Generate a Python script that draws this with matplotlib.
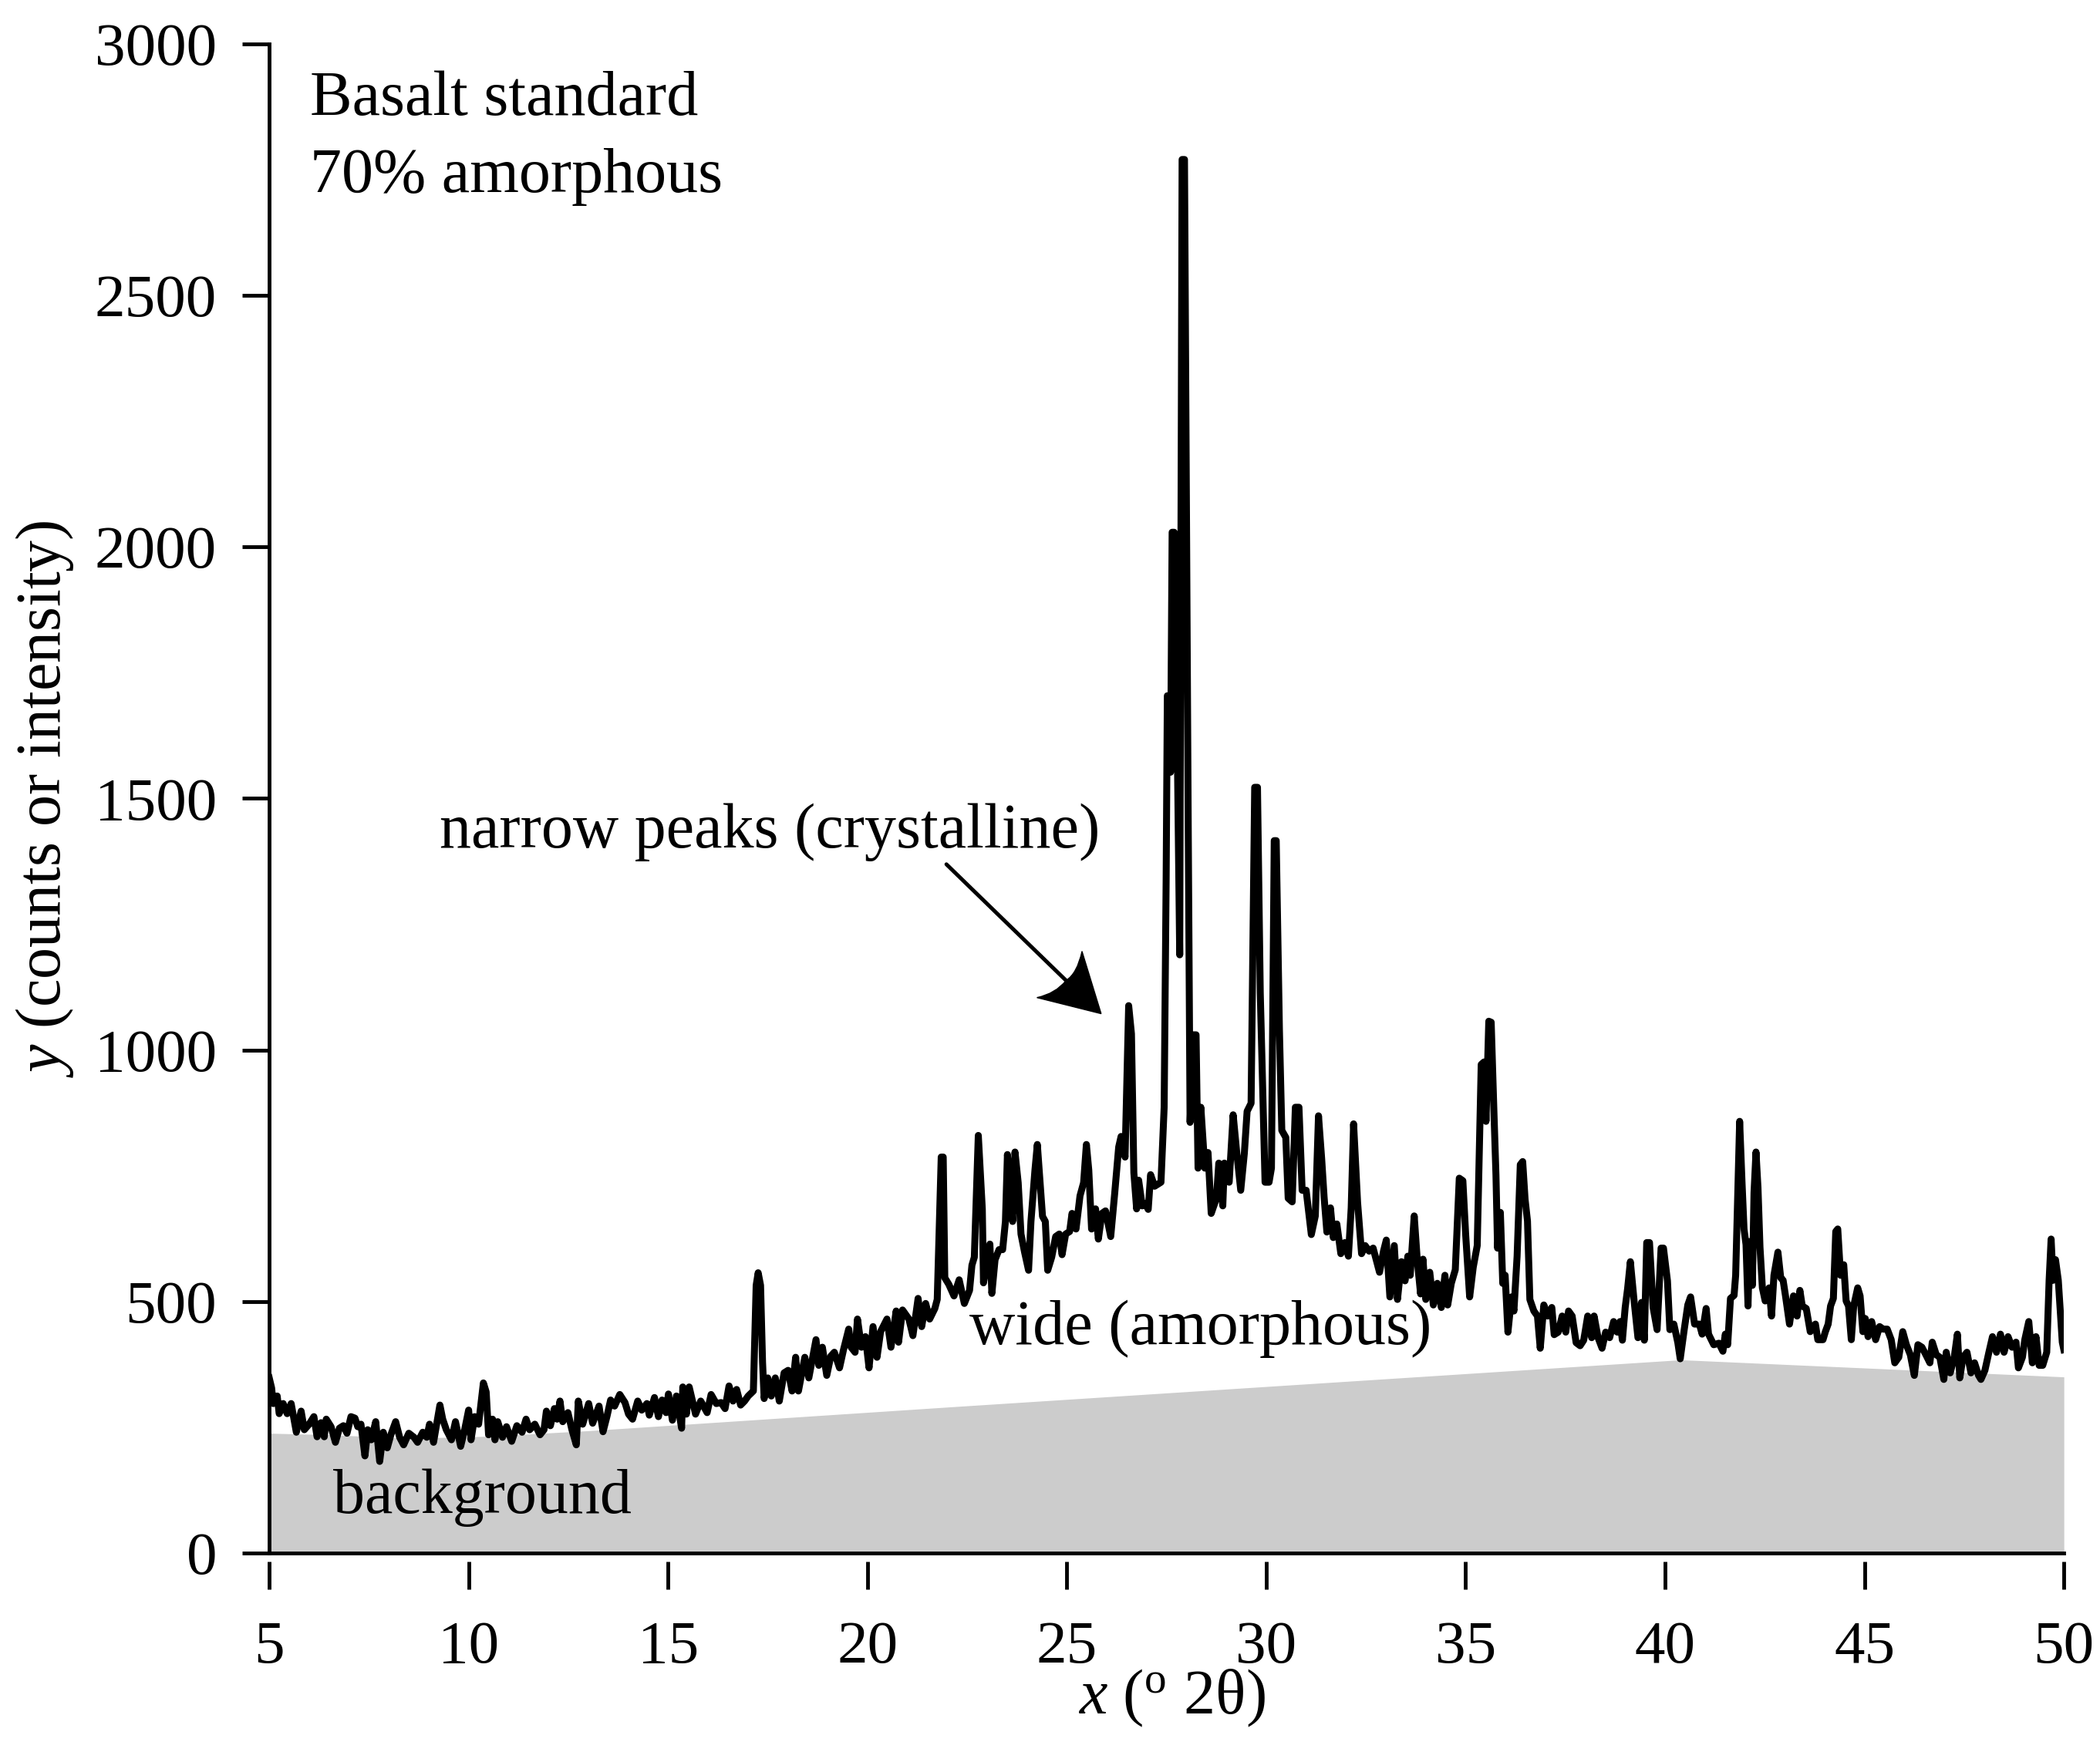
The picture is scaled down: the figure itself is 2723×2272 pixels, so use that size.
import numpy as np
import matplotlib
matplotlib.use('Agg')
from matplotlib import pyplot as plt
from matplotlib.path import Path
from matplotlib.patches import PathPatch

plt.rcParams['font.family'] = ['Liberation Serif', 'DejaVu Serif']
plt.rcParams['mathtext.fontset'] = 'custom'
plt.rcParams['mathtext.rm'] = 'Liberation Serif'
plt.rcParams['mathtext.it'] = 'Liberation Serif:italic'

# diffractogram, (2theta, counts), one list per stretch
low_angle = [
    (5.00, 348), (5.06, 328), (5.10, 297), (5.20, 312), (5.25, 277), (5.35, 297),
    (5.45, 277), (5.55, 297), (5.68, 240), (5.80, 282), (5.88, 245), (6.00, 256),
    (6.12, 271), (6.20, 231), (6.30, 259), (6.38, 231), (6.43, 266), (6.55, 251),
    (6.66, 220), (6.76, 248), (6.86, 253), (6.95, 238), (7.05, 271), (7.15, 268),
    (7.22, 251), (7.30, 256), (7.40, 193), (7.47, 245), (7.56, 225), (7.67, 261),
    (7.77, 182), (7.86, 240), (7.96, 209), (8.05, 235), (8.17, 261), (8.27, 230),
    (8.37, 215), (8.50, 238), (8.63, 230), (8.72, 220), (8.85, 240), (8.95, 230),
    (9.02, 256), (9.12, 220), (9.28, 294), (9.35, 266), (9.44, 245), (9.57, 225),
    (9.67, 261), (9.80, 212), (9.90, 245), (10.00, 284), (10.06, 225), (10.15, 271),
    (10.25, 256), (10.37, 338), (10.44, 320), (10.50, 235), (10.60, 266), (10.66, 225),
    (10.73, 261), (10.85, 230), (10.95, 251), (11.08, 222), (11.21, 253), (11.34, 240),
    (11.44, 266), (11.53, 245), (11.66, 256), (11.79, 235), (11.89, 245), (11.95, 282),
    (12.05, 253), (12.15, 287), (12.22, 266), (12.29, 302), (12.36, 261), (12.49, 279),
    (12.59, 245), (12.70, 215), (12.75, 302), (12.86, 256),
]
rising = [
    (13.01, 297), (13.11, 258), (13.27, 292), (13.37, 241), (13.47, 272), (13.56, 304),
    (13.66, 292), (13.79, 315), (13.92, 299), (14.01, 276), (14.11, 266), (14.24, 302),
    (14.34, 284), (14.47, 297), (14.53, 274), (14.66, 309), (14.76, 271), (14.85, 304),
    (14.95, 279), (15.01, 316), (15.11, 264), (15.21, 312), (15.34, 248), (15.37, 330),
    (15.46, 276), (15.53, 330), (15.69, 276), (15.82, 302), (15.98, 279), (16.08, 315),
    (16.21, 297), (16.33, 299), (16.43, 287), (16.53, 332), (16.63, 302), (16.72, 325),
    (16.82, 294), (16.92, 302), (17.01, 312), (17.14, 322), (17.21, 532), (17.26, 557),
    (17.32, 532), (17.37, 379), (17.41, 307), (17.50, 348), (17.59, 312), (17.69, 348),
    (17.79, 302), (17.91, 358), (18.01, 363), (18.11, 322), (18.20, 389), (18.27, 322),
    (18.43, 389), (18.53, 348), (18.71, 424), (18.78, 373), (18.87, 409), (18.98, 353),
    (19.08, 391), (19.17, 399), (19.30, 368), (19.40, 404), (19.53, 445), (19.59, 409),
    (19.69, 399), (19.75, 465), (19.85, 409), (19.95, 430), (20.04, 368), (20.14, 450),
    (20.24, 389), (20.33, 440), (20.49, 465), (20.59, 409), (20.72, 481), (20.78, 419),
    (20.88, 483), (21.04, 465), (21.14, 432), (21.27, 506), (21.36, 450), (21.46, 496),
    (21.56, 465), (21.69, 486), (21.75, 504), (21.85, 787), (21.90, 787), (21.94, 547),
]
before_main = [
    (22.04, 534), (22.17, 511), (22.30, 543), (22.43, 496), (22.56, 522), (22.62, 572),
    (22.68, 588), (22.78, 830), (22.88, 684), (22.91, 537), (23.01, 583), (23.07, 614),
    (23.12, 516), (23.20, 583), (23.30, 603), (23.39, 603), (23.46, 659), (23.51, 792),
    (23.59, 720), (23.64, 659), (23.70, 797), (23.78, 736), (23.85, 634), (23.94, 598),
    (24.04, 562), (24.10, 659), (24.20, 761), (24.26, 812), (24.33, 736), (24.39, 669),
    (24.46, 659), (24.52, 562), (24.62, 588), (24.72, 629), (24.81, 634), (24.88, 593),
    (24.97, 634), (25.07, 639), (25.13, 675), (25.23, 644), (25.33, 710), (25.42, 736),
    (25.49, 812), (25.55, 761), (25.62, 644), (25.72, 684), (25.79, 624), (25.88, 675),
    (25.97, 680), (26.10, 629), (26.20, 715), (26.30, 807), (26.36, 828), (26.46, 787),
    (26.49, 889), (26.55, 1088), (26.62, 1032), (26.68, 756), (26.75, 684), (26.80, 741),
    (26.89, 690), (26.97, 695),
]
main_peaks = [
    (27.04, 683), (27.10, 752), (27.20, 729), (27.36, 737), (27.44, 886), (27.49, 1340),
    (27.52, 1704), (27.57, 1704), (27.60, 1552), (27.64, 2029), (27.69, 2029), (27.73, 1870),
    (27.83, 1189), (27.89, 2770), (27.95, 2770), (28.04, 1492), (28.09, 856), (28.17, 1030),
    (28.24, 1030), (28.29, 765), (28.36, 886), (28.46, 765), (28.54, 796), (28.62, 675),
    (28.75, 705), (28.81, 775), (28.91, 690), (28.95, 775), (29.07, 737), (29.17, 871),
    (29.26, 796), (29.36, 721), (29.45, 794), (29.52, 878), (29.62, 894), (29.71, 1522),
    (29.78, 1522), (29.85, 1113), (29.97, 737), (30.07, 737), (30.13, 765), (30.20, 1416),
    (30.25, 1416), (30.33, 1040), (30.39, 840), (30.49, 826), (30.55, 705), (30.65, 698),
    (30.73, 886), (30.82, 886), (30.90, 721), (31.00, 721),
]
mid_angle = [
    (31.13, 633), (31.23, 670), (31.31, 869), (31.39, 783), (31.45, 708), (31.52, 638),
    (31.61, 686), (31.68, 627), (31.77, 654), (31.87, 595), (31.97, 617), (32.06, 590),
    (32.13, 686), (32.19, 853), (32.29, 697), (32.39, 595), (32.48, 611), (32.58, 600),
    (32.68, 606), (32.77, 579), (32.84, 558), (32.94, 600), (33.01, 622), (33.10, 509),
    (33.21, 611), (33.29, 504), (33.39, 579), (33.48, 541), (33.55, 590), (33.61, 552),
    (33.71, 670), (33.79, 579), (33.87, 515), (33.93, 584), (34.00, 504), (34.10, 558),
    (34.19, 493), (34.29, 536), (34.39, 488), (34.48, 552), (34.55, 493), (34.64, 536),
    (34.74, 563), (34.84, 745), (34.93, 740), (35.00, 633), (35.10, 509), (35.19, 568),
    (35.29, 611), (35.39, 971), (35.46, 976), (35.51, 858), (35.58, 1057), (35.64, 1055),
    (35.71, 874), (35.76, 751), (35.80, 606), (35.87, 677), (35.93, 536), (35.99, 552),
    (36.06, 439), (36.15, 509), (36.21, 481), (36.29, 590), (36.37, 772), (36.43, 778),
    (36.49, 703), (36.55, 660), (36.61, 504), (36.71, 481), (36.80, 471), (36.87, 407),
    (36.96, 493), (37.06, 471), (37.16, 488), (37.22, 434), (37.32, 439), (37.42, 471),
    (37.51, 439), (37.58, 481), (37.67, 471), (37.77, 418), (37.87, 412), (37.96, 423),
    (38.06, 471), (38.16, 428), (38.22, 471), (38.32, 428), (38.42, 407), (38.51, 439),
    (38.61, 428), (38.71, 460), (38.80, 439), (38.87, 460), (38.93, 423), (39.00, 488),
    (39.06, 525), (39.13, 579), (39.22, 504), (39.32, 428), (39.41, 498), (39.48, 423),
    (39.54, 617), (39.61, 617), (39.70, 488), (39.80, 444), (39.90, 606), (39.96, 606),
    (40.06, 541), (40.12, 444), (40.22, 455), (40.32, 418), (40.38, 386), (40.48, 444),
    (40.57, 493), (40.64, 509), (40.74, 455),
]
high_angle = [
    (40.86, 455), (40.93, 435), (41.03, 486), (41.09, 435), (41.22, 414), (41.35, 417),
    (41.45, 401), (41.51, 435), (41.57, 414), (41.64, 506), (41.73, 512), (41.77, 552),
    (41.83, 736), (41.87, 858), (41.93, 736), (41.98, 644), (42.03, 613), (42.08, 491),
    (42.12, 619), (42.19, 532), (42.23, 716), (42.28, 797), (42.33, 726), (42.38, 608),
    (42.44, 527), (42.51, 501), (42.61, 527), (42.67, 471), (42.73, 552), (42.83, 598),
    (42.90, 547), (42.96, 542), (43.02, 511), (43.12, 455), (43.22, 511), (43.31, 471),
    (43.38, 522), (43.44, 491), (43.54, 486), (43.64, 440), (43.77, 455), (43.83, 424),
    (43.96, 424), (44.02, 440), (44.09, 455), (44.15, 491), (44.22, 506), (44.28, 639),
    (44.33, 644), (44.40, 552), (44.48, 573), (44.54, 501), (44.60, 491), (44.67, 424),
    (44.73, 491), (44.83, 527), (44.89, 511), (44.96, 440), (45.02, 466), (45.09, 430),
    (45.18, 460), (45.28, 424), (45.38, 450), (45.47, 445), (45.57, 445), (45.67, 424),
    (45.76, 378), (45.86, 389), (45.96, 440), (46.05, 414), (46.15, 394), (46.25, 353),
    (46.34, 414), (46.44, 409), (46.54, 394), (46.64, 378), (46.70, 419), (46.80, 394),
    (46.89, 389), (46.99, 345), (47.05, 399), (47.15, 358), (47.25, 389), (47.33, 435),
    (47.39, 348), (47.47, 389), (47.57, 399), (47.67, 358), (47.76, 378), (47.86, 353),
    (47.92, 345), (48.02, 363), (48.12, 399), (48.21, 430), (48.31, 399), (48.41, 435),
    (48.50, 399), (48.60, 430), (48.70, 409), (48.80, 419), (48.86, 368), (48.96, 389),
    (49.02, 424), (49.12, 460), (49.21, 378), (49.30, 430), (49.38, 373), (49.47, 373),
    (49.57, 399), (49.63, 542), (49.68, 624), (49.73, 542), (49.79, 583), (49.86, 542),
    (49.96, 419), (50.00, 404),
]

# grey amorphous background
bg_theta = [5, 6.5, 8.5, 10.5, 13, 22.2, 40.4, 50]
bg_counts = [238, 235, 228, 232, 243, 291, 384, 350]

x_ticks = [5, 10, 15, 20, 25, 30, 35, 40, 45, 50]
y_ticks = [0, 500, 1000, 1500, 2000, 2500, 3000]

pattern = np.array(low_angle + rising + before_main + main_peaks + mid_angle + high_angle)
theta, counts = pattern[:, 0], pattern[:, 1]

fig = plt.figure(figsize=(27.23, 22.72), dpi=100)
ax = fig.add_axes([0.1282, 0.1136, 0.8546, 0.8614])

ax.fill_between(bg_theta, 0, bg_counts, color='#cccccc', lw=0, zorder=1)
ax.plot(theta, counts, color='black', lw=6.5, solid_joinstyle='round', zorder=3)

ax.set_xlim(5, 50)
ax.set_ylim(0, 3000)
for s in ['top', 'right']:
    ax.spines[s].set_visible(False)
for s in ['left', 'bottom']:
    ax.spines[s].set_linewidth(3.5)

ax.set_yticks(y_ticks)
ax.tick_params(axis='y', direction='out', length=25, width=3.5, pad=24, labelsize=57)
ax.set_xticks(x_ticks)
ax.tick_params(axis='x', length=0, labelbottom=False)

# x ticks sit a little below the axis line
sec = ax.secondary_xaxis(-0.0056)
sec.spines['bottom'].set_visible(False)
sec.set_xticks(x_ticks)
sec.tick_params(axis='x', direction='out', length=26, width=3.5, pad=29, labelsize=57)

ax.set_ylabel(r'$y$ (counts or intensity)', fontsize=59)
ax.yaxis.set_label_coords(-0.108, 0.5)
ax.set_xlabel(r'$x$ ($^{\mathrm{o}}$ 2θ)', fontsize=59)
ax.xaxis.set_label_coords(0.503, -0.076)

ax.text(6.03, 2858, 'Basalt standard', fontsize=59)
ax.text(6.03, 2705, '70% amorphous', fontsize=59)
ax.text(9.27, 1402, 'narrow peaks (crystalline)', fontsize=59)
ax.text(22.56, 415, 'wide (amorphous)', fontsize=59)
ax.text(6.6, 80, 'background', fontsize=59)

# arrow: straight shaft plus a swept-back head
shaft_start = (21.98, 1369)
head_tip = (25.86, 1072)
head_left = (24.25, 1104)
head_joint = (24.98, 1138)
head_top = (25.38, 1196)
ax.annotate('', xy=head_joint, xytext=shaft_start,
            arrowprops=dict(arrowstyle='-', lw=3.6, color='black',
                            shrinkA=0, shrinkB=0))
head = Path([head_tip, head_left, (24.72, 1112), head_joint, (25.26, 1152),
             head_top, head_tip, head_tip],
            [Path.MOVETO, Path.LINETO, Path.CURVE3, Path.CURVE3, Path.CURVE3,
             Path.CURVE3, Path.LINETO, Path.CLOSEPOLY])
ax.add_patch(PathPatch(head, facecolor='black', edgecolor='black', lw=1, zorder=4))

fig.savefig('out.png', dpi=100)
